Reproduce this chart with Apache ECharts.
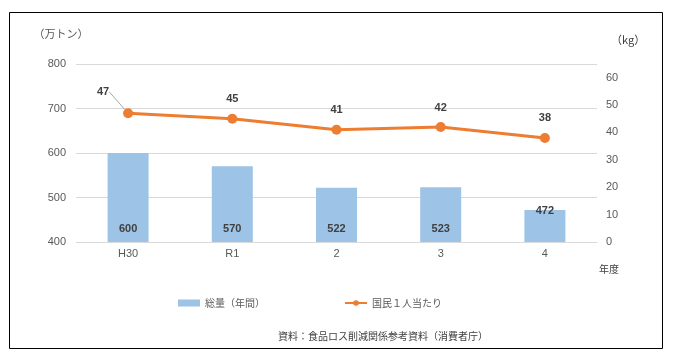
<!DOCTYPE html>
<html><head><meta charset="utf-8">
<script src="https://cdn.jsdelivr.net/npm/echarts@6/dist/echarts.min.js"></script>
<style>html,body{margin:0;padding:0;background:#fff}#c{width:678px;height:360px}</style>
</head><body><div id="c"></div>
<script>
const categories = ['H30', 'R1', '2', '3', '4'];
const totalVolume = [600, 570, 522, 523, 472];
const perCapita = [47, 45, 41, 42, 38];
const leftTicks = [400, 500, 600, 700, 800];
const rightTicks = [0, 10, 20, 30, 40, 50, 60];
const seriesNames = ['総量（年間）', '国民１人当たり'];
const leftUnit = '（万トン）';
const rightUnit = '（kg）';
const xUnit = '年度';
const sourceText = '資料：食品ロス削減関係参考資料（消費者庁）';

const FONT = '"Liberation Sans", "Noto Sans CJK JP", sans-serif';
const chart = echarts.init(document.getElementById('c'), null, {renderer: 'canvas'});
const barData = totalVolume.map((v, i) => {
  const short = v < 500;
  return {value: v, label: short ? {position: 'insideTop', distance: -4} : {}};
});
const lineData = perCapita.map((v, i) => i === 0 ? {value: v, labelLine: {show: true}} : v);

chart.setOption({
  animation: false,
  textStyle: {fontFamily: FONT},
  graphic: [
    {type: 'rect', shape: {x: 9.5, y: 12.5, width: 653, height: 336}, style: {fill: 'none', stroke: '#000', lineWidth: 1}, silent: true, z: -1},
    {type: 'text', left: 278, top: 331, style: {text: sourceText, font: '10px "Noto Sans CJK JP"', fill: '#404040'}}
  ],
  grid: {left: 76, right: 81, top: 64, bottom: 118},
  legend: {
    top: 293, left: 173, itemGap: 79, itemWidth: 22, itemHeight: 7,
    textStyle: {color: '#595959', fontSize: 10, fontFamily: '"Noto Sans CJK JP"'},
    data: [{name: seriesNames[0], icon: 'rect'}, {name: seriesNames[1]}]
  },
  xAxis: {
    type: 'category', data: categories,
    name: xUnit, nameLocation: 'end', nameGap: 2,
    nameTextStyle: {color: '#404040', fontSize: 10, fontFamily: '"Noto Sans CJK JP"', verticalAlign: 'top', padding: [22, 0, 0, 0]},
    axisLine: {lineStyle: {color: '#d9d9d9'}}, axisTick: {show: false},
    axisLabel: {color: '#595959', fontSize: 11, margin: 6}
  },
  yAxis: [
    {
      type: 'value', min: leftTicks[0], max: leftTicks[leftTicks.length - 1], interval: 100,
      name: leftUnit, nameGap: 25,
      nameTextStyle: {color: '#595959', fontSize: 11, fontFamily: '"Noto Sans CJK JP"', align: 'center', padding: [0, 30, 0, 0]},
      axisLine: {show: false}, axisTick: {show: false},
      axisLabel: {color: '#595959', fontSize: 11, margin: 10},
      splitLine: {lineStyle: {color: '#d9d9d9'}}
    },
    {
      type: 'value', min: rightTicks[0], max: 65, interval: 10,
      name: rightUnit, nameGap: 19,
      nameTextStyle: {color: '#404040', fontSize: 11, fontFamily: '"Noto Sans CJK JP"', align: 'left', padding: [0, 0, 0, 14]},
      axisLine: {show: false}, axisTick: {show: false},
      axisLabel: {color: '#595959', fontSize: 11, margin: 9, showMaxLabel: false},
      splitLine: {show: false}
    }
  ],
  series: [
    {
      name: seriesNames[0], type: 'bar', yAxisIndex: 0, barWidth: 41,
      itemStyle: {color: '#9DC3E6'},
      label: {show: true, position: 'insideBottom', distance: 8, color: '#404040', fontWeight: 'bold', fontSize: 11},
      data: barData
    },
    {
      name: seriesNames[1], type: 'line', yAxisIndex: 1,
      symbol: 'circle', symbolSize: 10,
      lineStyle: {color: '#ED7D31', width: 3}, itemStyle: {color: '#ED7D31'},
      label: {show: true, position: 'top', distance: 9, color: '#404040', fontWeight: 'bold', fontSize: 11},
      labelLine: {show: false, lineStyle: {color: '#a6a6a6', width: 1}},
      labelLayout: function (p) { return p.dataIndex === 0 ? {dx: -25, dy: -2} : {}; },
      data: lineData
    }
  ]
});
</script></body></html>
